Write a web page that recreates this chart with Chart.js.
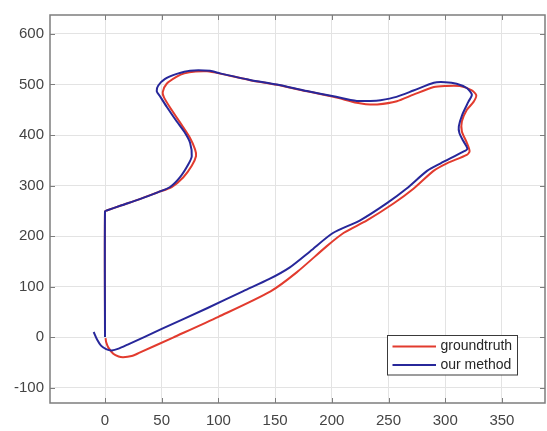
<!DOCTYPE html>
<html>
<head>
<meta charset="utf-8">
<script src="https://cdn.jsdelivr.net/npm/chart.js@4/dist/chart.umd.min.js"></script>
<style>
  html, body { margin: 0; padding: 0; background: #ffffff; }
  #wrap { width: 547px; height: 431px; }
</style>
</head>
<body>
<div id="wrap"><canvas id="traj" width="547" height="431"></canvas></div>
<script>
// Ground-truth trajectory (x, y)
const gtX = [0.5, 1, 3, 7.3, 12, 16, 23.5, 30, 60, 100, 146, 169, 195.6, 210.3, 231, 254.4, 272, 289.7, 301.5, 319, 321.5, 319, 314.7, 314.7, 319, 325, 327.4, 323.5, 313, 300, 290, 272, 257.4, 240, 230, 222, 201.5, 178, 151.5, 128, 101.5, 90, 80, 70, 63.3, 54.4, 50.9, 52.1, 58.8, 67.6, 75, 79.4, 80.3, 76.5, 69.1, 58.8, 47, 29.4, 14.7, 1.5, 0, 0];
const gtY = [-2, -10, -21, -33, -38.5, -40, -37.6, -31.5, -1, 40, 90.4, 128, 180, 206, 231, 264.4, 293.6, 329, 344, 360.5, 368, 385, 407, 427, 449.4, 465.6, 478.7, 488.4, 496.8, 497, 495, 480, 467, 460.5, 461, 463.7, 475.5, 486.5, 499.5, 508.5, 521.5, 526, 525.5, 522, 515.5, 501.5, 485, 474, 449.4, 420, 394, 371.5, 358.5, 339, 316.4, 297, 287, 272, 261, 250.5, 249, 0];

// Estimated trajectory (x, y)
const estX = [-10, -7, -3.5, 1, 6, 12, 20, 50, 90, 122, 145, 163, 181, 201, 225, 248, 266, 284, 296, 316, 319.5, 316, 312.5, 312, 315, 320.5, 323.5, 319, 310, 300, 290, 272, 257, 243, 234, 222, 201.5, 178, 151.5, 128, 101.5, 92.6, 75, 63.3, 53, 47, 45.6, 48.5, 54.4, 63.3, 70.6, 75, 76.5, 73.5, 66.2, 57.4, 47, 29.4, 14.7, 1.5, 0, 0];
const estY = [10, -5, -17, -24, -26.5, -23, -15, 16, 57, 91, 115, 138, 170, 206, 231, 264, 294, 329, 344, 367, 373, 388, 404, 417, 440, 466, 480, 493, 501.5, 504.5, 503.5, 488, 475.5, 469, 467.5, 467.5, 476.7, 487, 500, 509, 522, 527, 527.4, 521, 511, 498, 487, 476.7, 456, 426.7, 404, 384.6, 358, 342, 316.4, 297, 287, 272, 261, 250.5, 249, 0];

// Axis ticks and limits
const xTicks = [0, 50, 100, 150, 200, 250, 300, 350];
const yTicks = [-100, 0, 100, 200, 300, 400, 500, 600];
const xLimits = [-48.5, 388];
const yLimits = [-130.6, 637.6];

const seriesNames = ['groundtruth', 'our method'];
const seriesColors = ['#e23b2e', '#27279a'];

const toPoints = (xs, ys) => xs.map((x, i) => ({ x: x, y: ys[i] }));

const axisColor = '#7d7d7d';
const labelColor = '#444444';
const tickFont = { family: "'Liberation Sans', Arial, sans-serif", size: 15 };

// Box around the axes with inward tick marks on all four sides
const axesBox = {
  id: 'axesBox',
  afterDatasetsDraw(chart) {
    const { ctx, chartArea: a, scales } = chart;
    ctx.save();
    ctx.strokeStyle = axisColor;
    ctx.lineWidth = 1;
    ctx.beginPath();
    xTicks.forEach(v => {
      const px = Math.round(scales.x.getPixelForValue(v)) + 0.5;
      ctx.moveTo(px, a.bottom); ctx.lineTo(px, a.bottom - 5);
      ctx.moveTo(px, a.top); ctx.lineTo(px, a.top + 5);
    });
    yTicks.forEach(v => {
      const py = Math.round(scales.y.getPixelForValue(v)) + 0.5;
      ctx.moveTo(a.left, py); ctx.lineTo(a.left + 5, py);
      ctx.moveTo(a.right, py); ctx.lineTo(a.right - 5, py);
    });
    ctx.stroke();
    ctx.lineWidth = 1.5;
    ctx.strokeRect(a.left, a.top, a.right - a.left, a.bottom - a.top);
    ctx.restore();
  }
};

// Legend box in the lower right of the axes
const legendBox = {
  id: 'legendBox',
  afterDraw(chart) {
    const { ctx } = chart;
    const x0 = 387.5, y0 = 335.5, w = 130, h = 39.5;
    ctx.save();
    ctx.fillStyle = '#ffffff';
    ctx.fillRect(x0, y0, w, h);
    ctx.strokeStyle = '#3a3a3a';
    ctx.lineWidth = 1;
    ctx.strokeRect(x0, y0, w, h);
    ctx.font = "14px 'Liberation Sans', Arial, sans-serif";
    ctx.textBaseline = 'middle';
    seriesNames.forEach((name, i) => {
      const yy = y0 + 11 + i * 18.5;
      ctx.strokeStyle = seriesColors[i];
      ctx.lineWidth = 2;
      ctx.beginPath();
      ctx.moveTo(x0 + 5, yy); ctx.lineTo(x0 + 48.5, yy);
      ctx.stroke();
      ctx.fillStyle = '#262626';
      ctx.fillText(name, x0 + 53, yy);
    });
    ctx.restore();
  }
};

new Chart(document.getElementById('traj'), {
  type: 'scatter',
  data: {
    datasets: [
      {
        label: seriesNames[0],
        data: toPoints(gtX, gtY),
        showLine: true,
        borderColor: seriesColors[0],
        borderWidth: 2,
        pointRadius: 0,
        tension: 0.25,
        order: 2
      },
      {
        label: seriesNames[1],
        data: toPoints(estX, estY),
        showLine: true,
        borderColor: seriesColors[1],
        borderWidth: 2,
        pointRadius: 0,
        tension: 0.25,
        order: 1
      }
    ]
  },
  options: {
    responsive: false,
    animation: false,
    devicePixelRatio: 1,
    layout: { padding: { top: 10, right: 2, left: 0, bottom: 0 } },
    plugins: { legend: { display: false }, tooltip: { enabled: false } },
    scales: {
      x: {
        type: 'linear',
        min: xLimits[0],
        max: xLimits[1],
        afterBuildTicks(scale) { scale.ticks = xTicks.map(v => ({ value: v })); },
        afterFit(scale) { scale.height = 28; },
        grid: { color: '#e3e3e3', lineWidth: 1, drawTicks: false },
        border: { display: false },
        ticks: { color: labelColor, font: tickFont, padding: 9, maxRotation: 0 }
      },
      y: {
        type: 'linear',
        min: yLimits[0],
        max: yLimits[1],
        afterBuildTicks(scale) { scale.ticks = yTicks.map(v => ({ value: v })); },
        afterFit(scale) { scale.width = 50; },
        grid: { color: '#e3e3e3', lineWidth: 1, drawTicks: false },
        border: { display: false },
        ticks: { color: labelColor, font: tickFont, padding: 6 }
      }
    }
  },
  plugins: [axesBox, legendBox]
});
</script>
</body>
</html>
